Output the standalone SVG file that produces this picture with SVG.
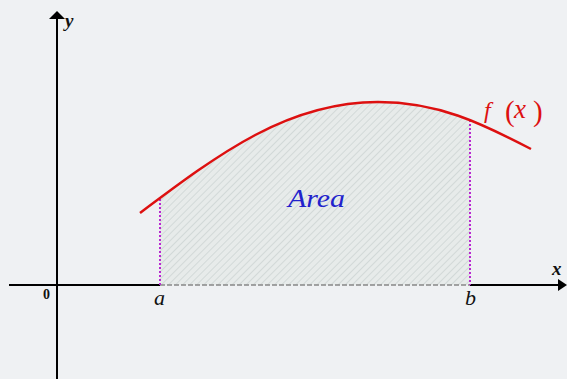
<svg xmlns="http://www.w3.org/2000/svg" width="567" height="379" viewBox="0 0 567 379">
<defs>
<pattern id="hatch" patternUnits="userSpaceOnUse" width="5" height="5" patternTransform="rotate(45)">
<rect width="5" height="5" fill="#e7ebea"/>
<line x1="0" y1="0" x2="0" y2="5" stroke="#c4cdcc" stroke-width="1.2"/>
</pattern>
<clipPath id="areaclip">
<path d="M140,213 C220,153 288,102 378,102 C438,102 481,123 531,149 L531,285 L140,285 Z"/>
</clipPath>
</defs>
<style>
.axis{stroke:#000;stroke-width:2;fill:none}
.guide{stroke:#b828d0;stroke-width:2;stroke-dasharray:2 2;fill:none}
.lbl{font-family:"Liberation Serif",serif;font-style:italic;fill:#111}
</style>
<rect width="567" height="379" fill="#eff1f3"/>
<g id="area">
<rect x="160" y="95" width="310" height="190" fill="url(#hatch)" clip-path="url(#areaclip)"/>
<text x="288" y="207" font-family="'Liberation Serif',serif" font-style="italic" font-size="26" textLength="57" lengthAdjust="spacingAndGlyphs" fill="#2222cc">Area</text>
</g>
<g id="connectors">
<line class="axis" x1="57" y1="16" x2="57" y2="379"/>
<polygon points="49,19 65,19 57,11" fill="#000"/>
<line class="axis" x1="9" y1="285" x2="160" y2="285"/>
<line x1="160" y1="285" x2="470" y2="285" stroke="#888" stroke-width="1.5" stroke-dasharray="5 2"/>
<line class="axis" x1="470" y1="285" x2="560" y2="285"/>
<polygon points="558,279 567,285 558,291" fill="#000"/>
<line class="guide" x1="160" y1="199" x2="160" y2="285"/>
<line class="guide" x1="470" y1="120" x2="470" y2="285"/>
</g>
<g id="curve">
<path d="M140,213 C220,153 288,102 378,102 C438,102 481,123 531,149" fill="none" stroke="#dd1010" stroke-width="2.5"/>
<text font-family="'Liberation Serif',serif" fill="#dd1010"><tspan x="484" y="118" font-size="24" font-style="italic">f</tspan><tspan x="505" y="121" font-size="29">(</tspan><tspan x="514" y="118" font-size="27" font-style="italic">x</tspan><tspan x="533" y="121" font-size="29">)</tspan></text>
</g>
<g id="labels">
<text x="65" y="27" class="lbl" font-size="19" font-weight="bold">y</text>
<text x="552" y="275" class="lbl" font-size="19" font-weight="bold">x</text>
<text x="43" y="299" font-family="'Liberation Serif',serif" font-size="14" font-weight="bold" fill="#111">0</text>
<text x="154" y="305" class="lbl" font-size="22">a</text>
<text x="465" y="305" class="lbl" font-size="22">b</text>
</g>
</svg>
